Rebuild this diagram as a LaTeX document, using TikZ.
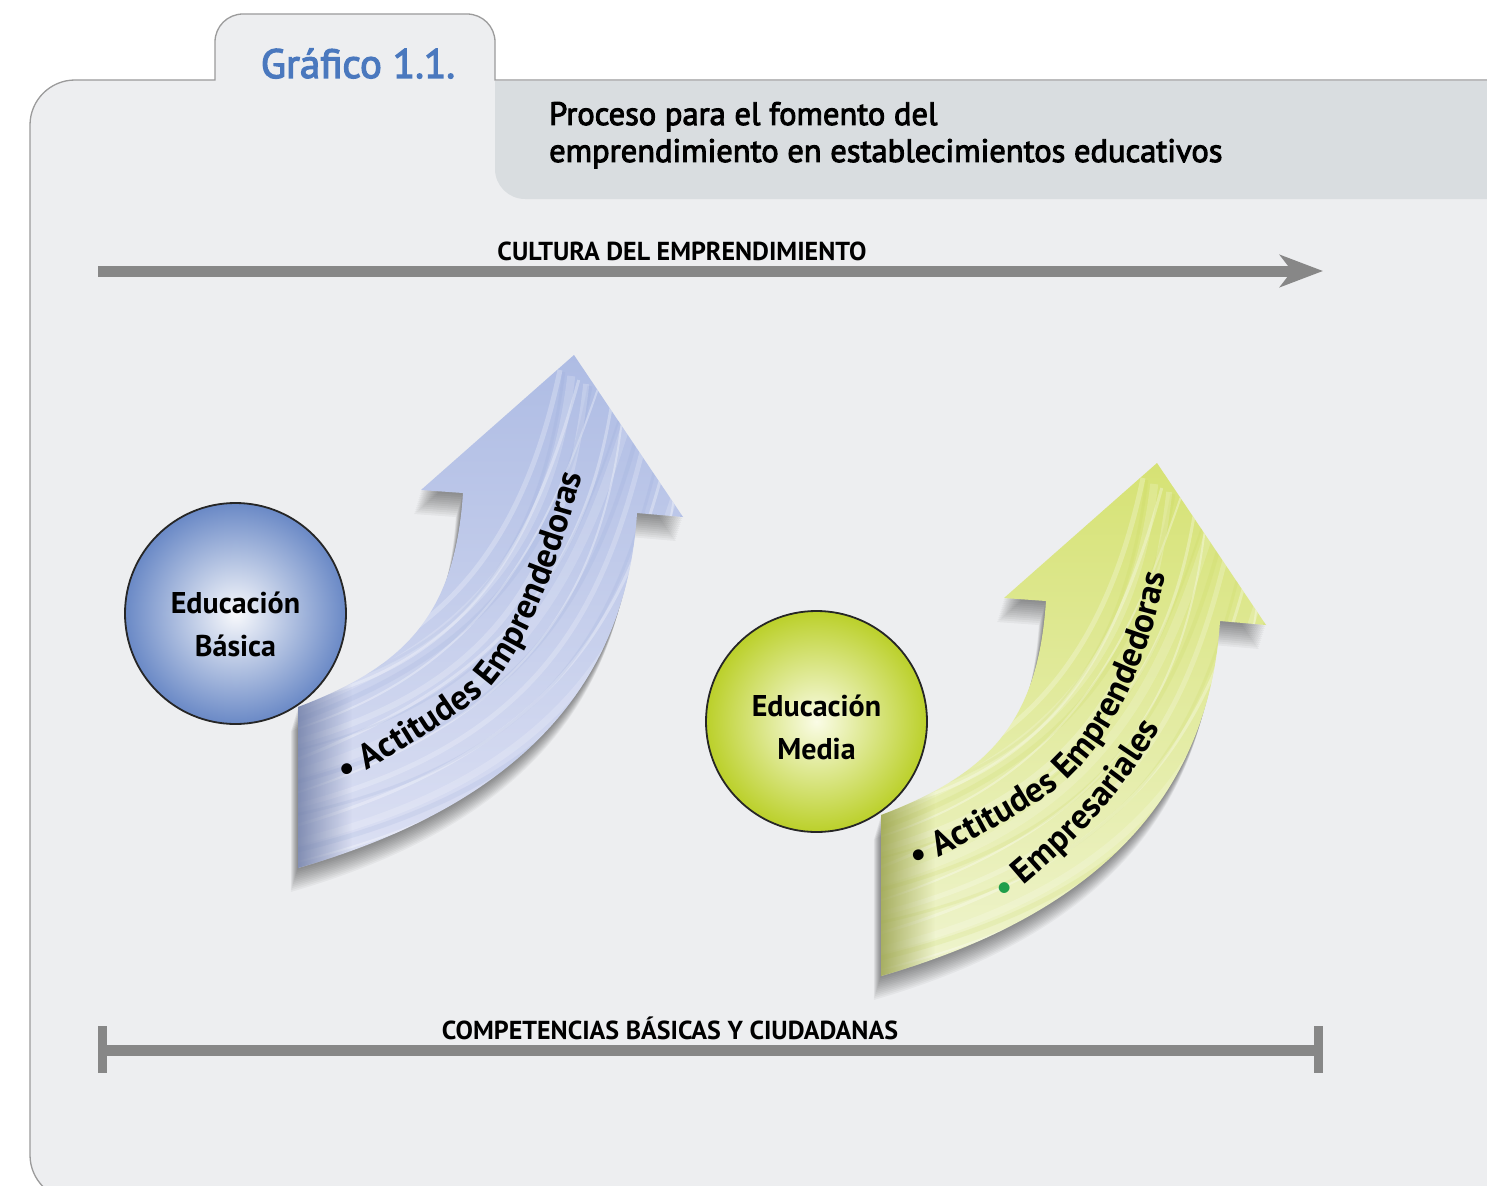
\documentclass[tikz,border=0pt]{standalone}
\usepackage{fontspec}
\setmainfont{PT Sans}
\newfontfamily\semib[FakeBold=3]{PT Sans}
\usetikzlibrary{arrows.meta,decorations.text,fadings}
\definecolor{panelbg}{HTML}{EDEEF0}
\definecolor{bandbg}{HTML}{D9DDE0}
\definecolor{panelline}{HTML}{9B9B9B}
\definecolor{barcol}{HTML}{878787}
\definecolor{tabblue}{HTML}{4A78BE}
\definecolor{blueout}{HTML}{6A89C6}
\definecolor{bluein}{HTML}{F8F9FC}
\definecolor{greenout}{HTML}{BBD02A}
\definecolor{greenin}{HTML}{FAFCE6}
\definecolor{bluehead}{HTML}{AEBCE4}
\definecolor{bluebody}{HTML}{DCE0F3}
\definecolor{bluestreak}{HTML}{8FA3D6}
\definecolor{bluetail}{HTML}{6F7DA6}
\definecolor{greenhead}{HTML}{D6E274}
\definecolor{greenbody}{HTML}{EFF4CF}
\definecolor{greenstreak}{HTML}{C3D34E}
\definecolor{greentail}{HTML}{98A04C}
\definecolor{bulletgreen}{HTML}{1E9E4A}
\newcommand\arrowfont{\fontsize{35}{35}\selectfont\bfseries}
\newcommand\bigarrowpath{(298,868) -- (298,707) .. controls (410,665) and (455,610) .. (463,493) -- (421,490) -- (574,355) -- (683,517) -- (637,513) .. controls (625,700) and (500,810) .. (298,868) -- cycle}
\tikzset{
  bar/.style={draw=barcol, line width=11pt},
  caplabel/.style={font=\fontsize{26}{26}\selectfont\bfseries, anchor=base, inner sep=0pt},
  ball/.style={circle, draw=black!85, line width=1.8pt, minimum size=221pt, inner sep=0pt},
  balltext/.style={align=center, font=\fontsize{30}{43}\selectfont\bfseries, inner sep=0pt},
  titletext/.style={font=\semib\fontsize{32.5}{37}\selectfont, anchor=base west, inner sep=0pt},
}
\newcommand\drawbigarrow[4]{%
  % #1 head colour, #2 body colour, #3 streak colour, #4 tail colour
  \foreach \i in {1,...,12}
    \fill[black, opacity=0.04, shift={(-0.6*\i,2.0*\i)}] \bigarrowpath;
  \shade[top color=#1, bottom color=#2] \bigarrowpath;
  \begin{scope}
    \clip \bigarrowpath;
    \foreach \s/\c/\d/\e/\w/\o in {0/0/0/0/5/.25, 18/30/10/25/3/.3, 30/10/35/15/8/.18, 55/40/20/50/2/.32,
        70/60/55/35/6/.22, 95/55/80/70/3/.3, 110/90/70/95/9/.16, 135/100/105/85/2/.32,
        150/130/110/120/5/.22, 175/140/140/150/3/.3, 195/170/150/175/7/.18, 220/190/185/160/2/.32}
      \draw[white, opacity=\o, line width=\w pt] (280, 690+0.8*\s) .. controls (430+0.9*\c, 650+0.75*\c) and (520+0.8*\d, 560+0.4*\d) .. (560+0.75*\e, 370+0.4*\e);
    \foreach \s/\c/\d/\e/\w in {10/20/25/5/3, 45/25/45/40/5, 80/75/60/85/2, 120/105/95/110/4, 160/150/130/140/3, 205/180/170/190/5}
      \draw[#3, opacity=.15, line width=\w pt] (280, 690+0.8*\s) .. controls (430+0.9*\c, 650+0.75*\c) and (520+0.8*\d, 560+0.4*\d) .. (560+0.75*\e, 370+0.4*\e);
    \fill[#4, opacity=.85, path fading=east] (296,680) rectangle (352,890);
  \end{scope}
}
\begin{document}
\begin{tikzpicture}[x=1pt, y=-1pt]
\useasboundingbox (0,0) rectangle (1487,1185);
\fill[white] (0,0) rectangle (1487,1185);
% panel with tab
\filldraw[fill=panelbg, draw=panelline, line width=1.3pt]
  (75,1200) .. controls (50.2,1200) and (30,1179.8) .. (30,1155) -- (30,125) .. controls (30,100.2) and (50.2,80) .. (75,80)
  -- (215,80) -- (215,42) .. controls (215,26.5) and (227.5,14) .. (243,14)
  -- (467,14) .. controls (482.5,14) and (495,26.5) .. (495,42)
  -- (495,80) -- (1600,80) -- (1600,1200) -- cycle;
% title band
\fill[bandbg] (495,81) -- (495,169) .. controls (495,185.5) and (508.5,199) .. (525,199) -- (1600,199) -- (1600,81) -- cycle;
\node[font=\semib\fontsize{41}{41}\selectfont, text=tabblue, anchor=base, inner sep=0pt] (tab) at (358,78) {Gráfico 1.1.};
\node[titletext] (title1) at (549,125) {Proceso para el fomento del};
\node[titletext] (title2) at (549,162) {emprendimiento en establecimientos educativos};
% top arrow
\coordinate (tl) at (98,271);
\coordinate (tr) at (1323,271);
\draw[bar, -{Stealth[length=43pt, width=32pt, inset=12pt]}] (tl) -- (tr);
\node[caplabel] (cultura) at (682,260) {CULTURA DEL EMPRENDIMIENTO};
% bottom bar
\coordinate (bl) at (98,1050);
\coordinate (br) at (1323,1050);
\coordinate (blt) at (102.5,1026);
\coordinate (blb) at (102.5,1073);
\coordinate (brt) at (1318.5,1026);
\coordinate (brb) at (1318.5,1073);
\draw[bar] (bl) -- (br);
\draw[draw=barcol, line width=9pt] (blt) -- (blb);
\draw[draw=barcol, line width=9pt] (brt) -- (brb);
\node[caplabel] (compet) at (670,1039) {COMPETENCIAS BÁSICAS Y CIUDADANAS};
% blue arrow
\drawbigarrow{bluehead}{bluebody}{bluestreak}{bluetail}
\path[decorate, decoration={text along path, text align=left,
   text={|\arrowfont|• Actitudes Emprendedoras}}]
   (345,782) .. controls (400,752) and (455,718) .. (488,690) .. controls (515,665) and (565,570) .. (594,420);
% green arrow
\begin{scope}[shift={(583,108)}]
\drawbigarrow{greenhead}{greenbody}{greenstreak}{greentail}
\path[decorate, decoration={text along path, text align=left,
   text={|\arrowfont|• Actitudes Emprendedoras}}]
   (333,760) .. controls (390,732) and (440,705) .. (472,682) .. controls (515,650) and (575,560) .. (590,415);
\path[decorate, decoration={text along path, text align=left,
   text={|\arrowfont\color{bulletgreen}|•|\arrowfont\color{black}| Empresariales}}]
   (422,793) .. controls (480,745) and (545,690) .. (598,580);
\end{scope}
% circles
\node[ball, inner color=bluein, outer color=blueout] (basica) at (235.5,613.5) {};
\node[balltext] (basicatxt) at ([yshift=-11pt]basica.center) {Educación\\Básica};
\node[ball, inner color=greenin, outer color=greenout] (media) at (816.5,721.5) {};
\node[balltext] (mediatxt) at ([yshift=-6pt]media.center) {Educación\\Media};
\end{tikzpicture}
\end{document}
